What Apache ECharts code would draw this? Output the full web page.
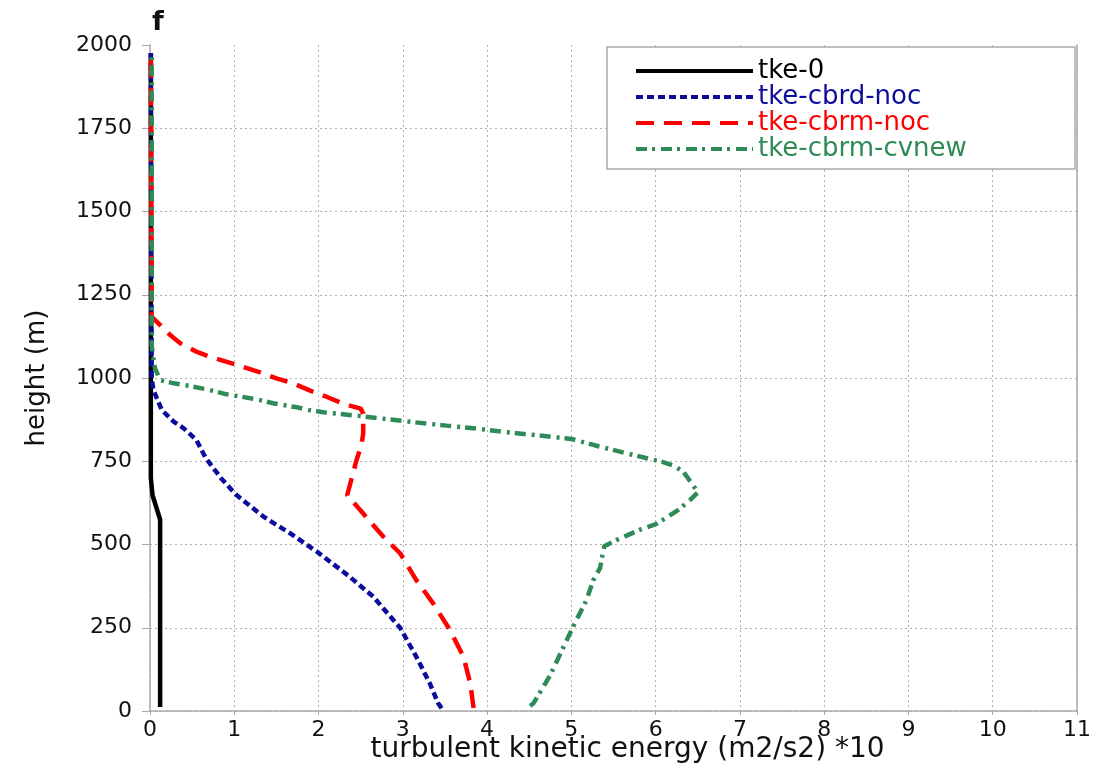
<!DOCTYPE html>
<html>
<head>
<meta charset="utf-8">
<title>TKE profiles</title>
<script src="https://cdn.jsdelivr.net/npm/echarts@6/dist/echarts.min.js"></script>
<style>
  html, body { margin: 0; padding: 0; background: #fff; overflow: hidden; }
  #chart { width: 1098px; height: 772px; }
</style>
</head>
<body>
<div id="chart"></div>
<script>
// Profiles of turbulent kinetic energy (m2/s2 *10) against height (m): [tke, height]
const seriesNames = ['tke-0', 'tke-cbrd-noc', 'tke-cbrm-noc', 'tke-cbrm-cvnew'];

const tke0 = [
  [0.12, 12], [0.12, 575], [0.03, 648], [0.01, 700], [0.01, 1975]
];

const tkeCbrdNoc = [
  [3.46, 8], [3.42, 23], [3.32, 83], [3.16, 163], [2.97, 249], [2.65, 343],
  [2.37, 403], [1.99, 477], [1.66, 534], [1.35, 583], [1.02, 650], [0.84, 700],
  [0.66, 760], [0.55, 814], [0.40, 849], [0.28, 869], [0.14, 904], [0.04, 964],
  [0.02, 999], [0.01, 1975]
];

const tkeCbrmNoc = [
  [3.84, 9], [3.80, 83], [3.72, 163], [3.56, 243], [3.36, 323], [3.16, 393],
  [2.97, 473], [2.77, 523], [2.53, 593], [2.34, 648], [2.45, 753], [2.51, 800],
  [2.53, 834], [2.53, 893], [2.50, 908], [2.29, 923], [2.10, 943], [1.90, 962],
  [1.70, 984], [1.50, 999], [1.34, 1014], [1.10, 1034], [0.71, 1064], [0.55, 1079],
  [0.36, 1104], [0.24, 1129], [0.10, 1164], [0.02, 1184], [0.01, 1975]
];

const tkeCbrmCvnew = [
  [4.51, 15], [4.55, 23], [4.75, 108], [5.02, 253], [5.18, 333], [5.26, 393],
  [5.34, 429], [5.39, 495], [5.54, 514], [5.83, 546], [6.01, 562], [6.27, 604],
  [6.41, 634], [6.50, 656], [6.43, 683], [6.33, 718], [6.23, 735], [6.08, 748],
  [5.70, 771], [5.32, 795], [5.00, 817], [4.63, 827], [4.23, 837], [3.92, 847],
  [3.52, 857], [3.14, 867], [2.83, 876], [2.45, 887], [2.06, 897], [1.88, 904],
  [1.74, 912], [1.46, 924], [1.27, 936], [0.91, 951], [0.71, 964], [0.47, 976],
  [0.28, 984], [0.12, 994], [0.06, 1029], [0.04, 1059], [0.02, 1100], [0.02, 1975]
];

const xTicks = [0, 1, 2, 3, 4, 5, 6, 7, 8, 9, 10, 11];
const yTicks = [0, 250, 500, 750, 1000, 1250, 1500, 1750, 2000];

const colors = ['#000000', '#0c0c9c', '#ff0000', '#2e8b57'];
const dashes = ['solid', [7, 4], [18, 10], [11, 5, 3, 6]];
const widths = [4.5, 4.5, 4.5, 4.5];
const profiles = [tke0, tkeCbrdNoc, tkeCbrmNoc, tkeCbrmCvnew];

const FONT = 'DejaVu Sans';
const GRID_COLOR = '#b0b0b0';

const chart = echarts.init(document.getElementById('chart'), null, { renderer: 'canvas' });

chart.setOption({
  animation: false,
  backgroundColor: '#ffffff',
  textStyle: { fontFamily: FONT },
  title: {
    text: 'f',
    left: 147,
    top: 4,
    textStyle: { fontFamily: FONT, fontSize: 27, fontWeight: 'bold', color: '#111' }
  },
  grid: {
    left: 150, right: 21, top: 45, bottom: 61,
    containLabel: false,
    outerBoundsMode: 'none'
  },
  xAxis: {
    type: 'value',
    min: xTicks[0],
    max: xTicks[xTicks.length - 1],
    interval: 1,
    name: 'turbulent kinetic energy (m2/s2) *10',
    nameLocation: 'middle',
    nameGap: 25,
    nameMoveOverlap: false,
    nameTextStyle: { fontFamily: FONT, fontSize: 28, color: '#111', padding: [0, 0, 0, 28] },
    axisLine: { show: true, lineStyle: { color: '#aaaaaa', width: 1.5 } },
    axisTick: { show: true, length: 4, lineStyle: { color: '#aaaaaa' } },
    axisLabel: { fontFamily: FONT, fontSize: 22, color: '#111', margin: 8, formatter: v => String(v) },
    splitLine: { show: true, lineStyle: { color: GRID_COLOR, type: [2, 3], width: 1 } }
  },
  yAxis: [
    {
      type: 'value',
      min: yTicks[0],
      max: yTicks[yTicks.length - 1],
      interval: 250,
      name: 'height (m)',
      nameLocation: 'middle',
      nameGap: 100,
      nameMoveOverlap: false,
      nameTextStyle: { fontFamily: FONT, fontSize: 26, color: '#111' },
      axisLine: { show: true, lineStyle: { color: '#aaaaaa', width: 1.5 } },
      axisTick: { show: true, length: 8, lineStyle: { color: '#aaaaaa' } },
      axisLabel: { fontFamily: FONT, fontSize: 22, color: '#111', margin: 18, formatter: v => String(v) },
      splitLine: {
        show: true,
        showMaxLine: false,
        lineStyle: { color: GRID_COLOR, type: [2, 3], width: 1 }
      }
    },
    {
      type: 'value',
      position: 'right',
      min: yTicks[0],
      max: yTicks[yTicks.length - 1],
      interval: 250,
      axisLine: { show: true, lineStyle: { color: '#aaaaaa', width: 1.5 } },
      axisTick: { show: false },
      axisLabel: { show: false },
      splitLine: { show: false }
    }
  ],
  graphic: [
    {
      type: 'rect',
      z: 3,
      shape: { x: 607, y: 47, width: 468, height: 122 },
      style: { fill: '#ffffff', stroke: '#aaaaaa', lineWidth: 1.5 }
    }
  ],
  legend: {
    orient: 'vertical',
    left: 634,
    top: 58,
    padding: 0,
    itemWidth: 117,
    itemHeight: 14,
    itemGap: 0,
    z: 4,
    itemStyle: { opacity: 0 },
    lineStyle: { width: 4 },
    textStyle: { fontFamily: FONT, fontSize: 26, lineHeight: 24.5 },
    data: seriesNames.map((n, i) => ({ name: n, textStyle: { color: colors[i] } }))
  },
  series: seriesNames.map((n, i) => ({
    name: n,
    type: 'line',
    yAxisIndex: 0,
    data: profiles[i],
    showSymbol: false,
    symbol: 'none',
    smooth: false,
    z: 2 + i,
    color: colors[i],
    lineStyle: { color: colors[i], width: widths[i], type: dashes[i], cap: 'butt' }
  }))
});
</script>
</body>
</html>
